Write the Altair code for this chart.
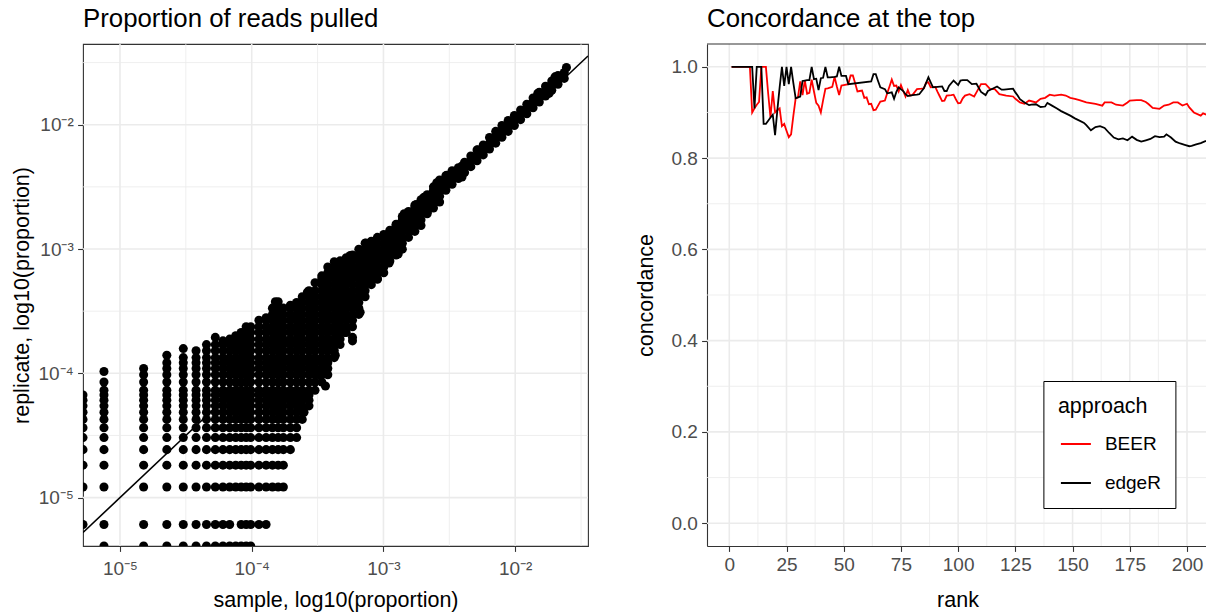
import altair as alt
import pandas as pd

FONT = "Liberation Sans"

# ---------------- Left panel: read counts ----------------
SAMPLE_UNIT = 7.56e-6      # proportion represented by one read in the sample
REPLICATE_UNIT = 6.08e-6   # proportion represented by one read in the replicate

SAMPLE_COUNTS = [0, 1, 2, 3, 4, 5, 6, 7, 8, 9, 10, 11, 12, 13, 15, 17, 19, 21, 23, 26, 29, 32, 36,
                 40, 45, 50, 56, 62, 69, 77, 86, 96, 107, 119, 133, 148, 165, 184, 205, 229, 255,
                 284, 317, 353, 394, 439, 490, 546, 609, 679, 757, 844, 941, 1049, 1170, 1304,
                 1454, 1621, 1808, 2016, 2248, 2507, 2796, 3118, 3240]

REPLICATE_COUNTS = [
    [1, 2, 3, 4, 5, 6, 7, 8, 9, 10, 11],
    [0, 1, 2, 3, 4, 5, 6, 7, 8, 9, 10, 11, 12, 14, 17],
    [0, 1, 2, 3, 4, 5, 6, 7, 8, 9, 10, 11, 12, 14, 16, 18],
    [0, 1, 2, 3, 4, 5, 6, 7, 8, 9, 10, 11, 12, 14, 16, 18, 20, 23],
    [0, 1, 2, 3, 4, 5, 6, 7, 8, 9, 10, 11, 12, 14, 16, 18, 20, 22, 26],
    [0, 1, 2, 3, 4, 5, 6, 7, 8, 9, 10, 11, 12, 14, 16, 18, 20, 22, 25],
    [0, 1, 2, 3, 4, 5, 6, 7, 8, 9, 10, 11, 12, 14, 16, 18, 20, 22, 25, 28],
    [0, 1, 2, 3, 4, 5, 6, 7, 8, 9, 10, 11, 12, 14, 16, 18, 20, 22, 25, 28, 32],
    [0, 1, 2, 3, 4, 5, 6, 7, 8, 9, 10, 11, 12, 14, 16, 18, 20, 22, 25, 28, 30],
    [0, 1, 2, 3, 4, 5, 6, 7, 8, 9, 10, 11, 12, 14, 16, 18, 20, 22, 25, 28, 31],
    [0, 2, 3, 4, 5, 6, 7, 8, 9, 10, 11, 12, 14, 16, 18, 20, 22, 25, 28, 31, 33],
    [0, 1, 2, 3, 4, 5, 6, 7, 8, 9, 10, 11, 12, 14, 16, 18, 20, 22, 25, 28, 31, 35],
    [0, 1, 2, 3, 4, 5, 6, 7, 8, 9, 10, 11, 12, 14, 16, 18, 20, 22, 25, 28, 31, 35, 39],
    [0, 1, 2, 3, 4, 5, 6, 7, 8, 9, 10, 11, 12, 14, 16, 18, 20, 22, 25, 28, 31, 35, 39],
    [1, 2, 3, 4, 5, 6, 7, 8, 9, 10, 11, 12, 14, 16, 18, 20, 22, 25, 28, 31, 35, 39, 44],
    [1, 2, 3, 4, 5, 6, 7, 8, 9, 10, 11, 12, 14, 16, 18, 20, 22, 25, 28, 31, 35, 39, 44, 46],
    [2, 3, 4, 5, 6, 7, 8, 9, 10, 11, 12, 14, 16, 18, 20, 22, 25, 28, 31, 35, 39, 44, 49, 55],
    [2, 3, 4, 5, 6, 7, 8, 9, 10, 11, 12, 14, 16, 18, 20, 22, 25, 28, 31, 35, 39, 44, 49, 55, 62],
    [2, 3, 4, 5, 6, 7, 8, 9, 10, 11, 12, 14, 16, 18, 20, 22, 25, 28, 31, 35, 39, 44, 49, 55],
    [4, 5, 6, 7, 8, 9, 10, 11, 12, 14, 16, 18, 20, 22, 25, 28, 31, 35, 39, 44, 49, 55, 58],
    [5, 6, 7, 8, 9, 10, 11, 12, 14, 16, 18, 20, 22, 25, 28, 31, 35, 39, 44, 49, 55, 61],
    [7, 8, 9, 10, 11, 12, 14, 16, 18, 20, 22, 25, 28, 31, 35, 39, 44, 49, 55, 61, 68],
    [9, 10, 11, 12, 14, 16, 18, 20, 22, 25, 28, 31, 35, 39, 44, 49, 55, 61, 68, 76],
    [12, 14, 16, 18, 20, 22, 25, 28, 31, 35, 39, 44, 49, 55, 61, 68, 76, 88],
    [14, 16, 18, 20, 22, 25, 28, 31, 35, 39, 44, 49, 55, 61, 68, 76, 85, 95, 100],
    [16, 18, 20, 22, 25, 28, 31, 35, 39, 44, 49, 55, 61, 68, 76, 85, 95, 106, 118],
    [22, 25, 28, 31, 35, 39, 44, 49, 55, 61, 68, 76, 85, 95, 106, 118, 130],
    [28, 31, 35, 39, 44, 49, 55, 61, 68, 76, 85, 95, 106, 118, 132],
    [35, 39, 44, 49, 55, 61, 68, 76, 85, 95, 106, 118, 132, 140],
    [32, 39, 44, 49, 55, 61, 68, 76, 85, 95, 106, 118, 132, 147],
    [49, 55, 61, 68, 76, 85, 95, 106, 118, 132, 147, 164],
    [68, 76, 85, 95, 106, 118, 132, 147, 164, 183],
    [85, 95, 106, 118, 132, 147, 164, 183, 190],
    [95, 106, 118, 132, 147, 164, 183, 204],
    [106, 118, 132, 147, 164, 183, 204, 215],
    [132, 147, 164, 183, 204, 228, 233],
    [147, 164, 183, 204, 228, 254, 260],
    [164, 183, 204, 228, 254, 283, 300],
    [204, 228, 254, 283, 316, 330],
    [228, 254, 283, 316, 352, 370],
    [254, 283, 316, 352, 393, 410],
    [316, 352, 393, 438, 450],
    [352, 393, 438, 489, 520],
    [393, 438, 489, 545, 590],
    [489, 545, 608, 640],
    [545, 608, 678, 700],
    [608, 678, 740],
    [678, 756, 820],
    [756, 843, 920],
    [843, 940, 1030],
    [940, 1048, 1130],
    [1048, 1169, 1300],
    [1169, 1304, 1454],
    [1304, 1454, 1620],
    [1454, 1621, 1780],
    [1621, 1808, 1950],
    [1808, 2016, 2160],
    [2016, 2248, 2400],
    [2248, 2507, 2700],
    [2507, 2796, 3000],
    [2796, 3118, 3350],
    [3118, 3477, 3700],
    [3477, 3877, 4100],
    [3877, 4324],
    [4740],
]

# isolated points on the ragged edges of the cloud: (sample reads, replicate reads)
EDGE_SAMPLE = [171, 146, 119, 285, 88, 77, 67, 57, 48, 43, 33, 74, 97, 190, 234, 268, 336,
               400, 522, 685, 522, 1963, 2653, 2393, 1539, 927, 20, 29, 35]
EDGE_REPLICATE = [150, 127, 94, 327, 51, 30, 35, 23, 13, 16, 8, 146, 184, 316, 375, 428, 561,
                  645, 765, 1032, 624, 2940, 3990, 2940, 2050, 1310, 62, 60, 74]

X_DOMAIN = [5.24e-6, 0.0357]
Y_DOMAIN = [4.08e-6, 0.0446]
LOG_TICKS = [1e-5, 1e-4, 1e-3, 1e-2]
LOG_MINOR = [3.162e-5, 3.162e-4, 3.162e-3, 3.162e-2]
LOG_TICK_LABELS = ["10\u207b\u2075", "10\u207b\u2074", "10\u207b\u00b3", "10\u207b\u00b2"]

# ---------------- Right panel: concordance at the top ----------------
BEER_RANK = [1, 9, 10, 11, 12, 13, 14, 16, 17, 18, 19, 20, 21, 22, 23, 24, 25, 26, 27, 28, 29, 30,
             31, 32, 33, 34, 35, 36, 37, 38, 39, 40, 41, 42, 43, 45, 46, 47, 48, 49, 50, 52, 53,
             54, 55, 56, 57, 58, 59, 60, 61, 62, 63, 64, 65, 66, 67, 68, 69, 70, 71, 72, 73, 74,
             75, 76, 77, 78, 79, 80, 82, 84, 85, 86, 87, 88, 90, 91, 92, 93, 94, 95, 97, 98, 99,
             100, 101, 102, 103, 105, 107, 108, 110, 112, 114, 116, 118, 121, 124, 125, 127, 129,
             131, 134, 136, 138, 140, 142, 145, 147, 149, 151, 153, 156, 160, 163, 164, 167, 169,
             172, 174, 175, 178, 180, 182, 183, 185, 188, 190, 192, 194, 196, 198, 200, 201, 203,
             206, 207, 209]
BEER_VALUE = [1.0, 1.0, 0.9, 0.909, 0.917, 0.923, 1.0, 1.0, 0.941, 0.889, 0.947, 0.9, 0.905, 0.909,
              0.87, 0.875, 0.86, 0.846, 0.852, 0.893, 0.931, 0.933, 0.968, 0.938, 0.97, 0.941,
              0.943, 0.972, 0.946, 0.921, 0.915, 0.9, 0.927, 0.952, 0.953, 0.956, 0.978, 0.957,
              0.938, 0.959, 0.96, 0.962, 0.981, 0.981, 0.964, 0.946, 0.947, 0.948, 0.932, 0.933,
              0.918, 0.919, 0.905, 0.906, 0.915, 0.924, 0.925, 0.926, 0.942, 0.957, 0.972, 0.958,
              0.959, 0.946, 0.96, 0.947, 0.935, 0.949, 0.937, 0.938, 0.951, 0.952, 0.953, 0.965,
              0.966, 0.955, 0.956, 0.945, 0.935, 0.925, 0.926, 0.937, 0.938, 0.939, 0.929, 0.92,
              0.921, 0.931, 0.937, 0.94, 0.935, 0.944, 0.962, 0.962, 0.951, 0.951, 0.94, 0.937,
              0.935, 0.93, 0.922, 0.919, 0.926, 0.922, 0.93, 0.932, 0.939, 0.937, 0.939, 0.937,
              0.932, 0.93, 0.927, 0.922, 0.919, 0.915, 0.922, 0.922, 0.917, 0.915, 0.922, 0.926,
              0.927, 0.927, 0.923, 0.919, 0.91, 0.908, 0.915, 0.917, 0.922, 0.922, 0.915, 0.919,
              0.911, 0.9, 0.893, 0.898, 0.894]

EDGER_RANK = [1, 10, 11, 12, 14, 15, 16, 17, 18, 19, 20, 21, 22, 23, 24, 25, 26, 27, 28, 29, 30,
              31, 32, 33, 34, 35, 36, 37, 38, 39, 40, 41, 42, 43, 44, 46, 47, 48, 49, 50, 51, 52,
              62, 63, 64, 65, 66, 68, 69, 70, 71, 72, 73, 74, 76, 77, 78, 80, 82, 83, 85, 86, 87,
              88, 89, 91, 93, 94, 95, 96, 98, 100, 101, 102, 104, 106, 108, 110, 112, 113, 115,
              117, 119, 120, 122, 124, 125, 126, 127, 129, 131, 132, 134, 136, 138, 139, 141, 143,
              145, 147, 149, 151, 153, 155, 156, 158, 160, 162, 164, 166, 168, 170, 172, 174, 176,
              178, 180, 182, 184, 186, 188, 190, 191, 193, 195, 197, 199, 201, 202, 204, 206, 208,
              209]
EDGER_VALUE = [1.0, 1.0, 0.909, 1.0, 1.0, 0.875, 0.875, 0.882, 0.889, 0.895, 0.85, 0.905, 0.955,
               1.0, 0.958, 1.0, 0.962, 1.0, 0.964, 0.931, 0.933, 0.935, 0.969, 0.97, 0.971, 0.971,
               1.0, 0.973, 0.974, 0.949, 0.975, 0.976, 1.0, 0.977, 0.977, 0.978, 0.979, 1.0, 0.98,
               0.98, 0.98, 0.962, 0.968, 0.984, 0.984, 0.969, 0.955, 0.951, 0.942, 0.943, 0.944,
               0.93, 0.945, 0.955, 0.947, 0.94, 0.936, 0.938, 0.939, 0.94, 0.953, 0.965, 0.977,
               0.966, 0.955, 0.956, 0.957, 0.947, 0.947, 0.958, 0.97, 0.96, 0.97, 0.971, 0.971,
               0.962, 0.963, 0.945, 0.938, 0.947, 0.952, 0.957, 0.95, 0.95, 0.951, 0.952, 0.944,
               0.937, 0.929, 0.922, 0.916, 0.917, 0.918, 0.912, 0.913, 0.921, 0.915, 0.909, 0.903,
               0.898, 0.893, 0.887, 0.882, 0.877, 0.872, 0.861, 0.868, 0.87, 0.866, 0.855, 0.845,
               0.841, 0.843, 0.839, 0.847, 0.84, 0.836, 0.839, 0.842, 0.848, 0.846, 0.847, 0.852,
               0.845, 0.836, 0.832, 0.829, 0.826, 0.827, 0.83, 0.833, 0.837, 0.837]

RANK_TICKS = [0, 25, 50, 75, 100, 125, 150, 175, 200]
RANK_MINOR = [12.5, 37.5, 62.5, 87.5, 112.5, 137.5, 162.5, 187.5]
CONC_TICKS = [0.0, 0.2, 0.4, 0.6, 0.8, 1.0]
CONC_MINOR = [0.1, 0.3, 0.5, 0.7, 0.9]
APPROACHES = ["BEER", "edgeR"]
APPROACH_COLORS = ["#FF0000", "#000000"]

GRID = "#EBEBEB"
FRAME = "#333333"
TICK_FONT = 19

# ---------------- build tables ----------------
pairs = []
for n, ms in zip(SAMPLE_COUNTS, REPLICATE_COUNTS):
    for m in ms:
        pairs.append((n, m))
pairs += list(zip(EDGE_SAMPLE, EDGE_REPLICATE))

rows = []
for n, m in pairs:
    # zero counts sit on the panel edge (log of zero), as in the original
    rows.append({
        "sample": n * SAMPLE_UNIT if n > 0 else X_DOMAIN[0],
        "replicate": m * REPLICATE_UNIT if m > 0 else Y_DOMAIN[0],
    })
scatter_df = pd.DataFrame(rows)

conc_df = pd.DataFrame({
    "rank": BEER_RANK + EDGER_RANK,
    "concordance": BEER_VALUE + EDGER_VALUE,
    "approach": [APPROACHES[0]] * len(BEER_RANK) + [APPROACHES[1]] * len(EDGER_RANK),
})

label_list = "[" + ",".join("'" + s + "'" for s in LOG_TICK_LABELS) + "]"
log_label_expr = label_list + "[round(log(datum.value)/LN10)+5]"

LW, LH = 505, 502
RW, RH = 499, 502

xs = alt.Scale(type="log", domain=X_DOMAIN, nice=False)
ys = alt.Scale(type="log", domain=Y_DOMAIN, nice=False)

left_x_axis = alt.Axis(values=LOG_TICKS, labelExpr=log_label_expr, title="sample, log10(proportion)",
                       titleX=LW / 2, titleY=60, titleBaseline="alphabetic", labelFlush=False,
                       labelPadding=8.5)
left_y_axis = alt.Axis(values=LOG_TICKS, labelExpr=log_label_expr, title="replicate, log10(proportion)",
                       titleX=-55, titleY=LH / 2, titleAngle=270, titleBaseline="alphabetic",
                       titleAlign="center", labelFlush=False)

rx = alt.Scale(domain=[-9.74, 208.3], nice=False, zero=False)
ry = alt.Scale(domain=[-0.05, 1.05], nice=False, zero=False)

right_x_axis = alt.Axis(values=RANK_TICKS, format="d", title="rank", titleX=250.5, titleY=60,
                        titleBaseline="alphabetic", labelFlush=False, domain=True,
                        domainColor=FRAME, domainWidth=1.1)
right_y_axis = alt.Axis(values=CONC_TICKS, format=".1f", title="concordance", titleX=-55,
                        titleY=RH / 2, titleAngle=270, titleBaseline="alphabetic",
                        titleAlign="center", labelFlush=False, domain=True,
                        domainColor=FRAME, domainWidth=1.1)


def vrules(values, scale, axis, width):
    return alt.Chart(pd.DataFrame({"g": values})).mark_rule(
        color=GRID, strokeWidth=width).encode(x=alt.X("g:Q", scale=scale, axis=axis))


def hrules(values, scale, axis, width):
    return alt.Chart(pd.DataFrame({"g": values})).mark_rule(
        color=GRID, strokeWidth=width).encode(y=alt.Y("g:Q", scale=scale, axis=axis))


points = alt.Chart(scatter_df).mark_circle(size=82, color="black", opacity=1, clip=True).encode(
    x=alt.X("sample:Q", scale=xs, axis=left_x_axis),
    y=alt.Y("replicate:Q", scale=ys, axis=left_y_axis),
)
diag = alt.Chart(pd.DataFrame({"sample": X_DOMAIN, "replicate": X_DOMAIN})).mark_line(
    color="black", strokeWidth=1.6, clip=True).encode(
    x=alt.X("sample:Q", scale=xs, axis=left_x_axis),
    y=alt.Y("replicate:Q", scale=ys, axis=left_y_axis))

TITLE_OFFSET = -9.3

left = alt.layer(
    vrules(LOG_MINOR, xs, left_x_axis, 0.8), hrules(LOG_MINOR, ys, left_y_axis, 0.8),
    vrules(LOG_TICKS, xs, left_x_axis, 1.6), hrules(LOG_TICKS, ys, left_y_axis, 1.6),
    points, diag,
).properties(
    width=LW, height=LH,
    title=alt.TitleParams("Proportion of reads pulled", anchor="start", frame="group",
                          fontSize=25.8, font=FONT, fontWeight="normal", color="black",
                          baseline="alphabetic", offset=TITLE_OFFSET),
    view=alt.ViewBackground(stroke=FRAME, strokeWidth=1.1),
)

lines = alt.Chart(conc_df).mark_line(strokeWidth=1.8, clip=True).encode(
    x=alt.X("rank:Q", scale=rx, axis=right_x_axis),
    y=alt.Y("concordance:Q", scale=ry, axis=right_y_axis),
    color=alt.Color("approach:N", scale=alt.Scale(domain=APPROACHES, range=APPROACH_COLORS),
                    legend=alt.Legend(orient="none", legendX=960.4, legendY=337,
                                      title="approach", titleFontSize=21.5, titleFont=FONT,
                                      titleFontWeight="normal", titleColor="black",
                                      labelFontSize=TICK_FONT, labelFont=FONT, labelColor="black",
                                      symbolType="stroke", symbolSize=900, symbolStrokeWidth=2,
                                      padding=14.5, strokeColor="black", fillColor="white",
                                      rowPadding=13, titlePadding=11, labelOffset=13,
                                      symbolOffset=2,
                                      labelExpr="datum.label + '\u00a0'")),
)
top_border = alt.Chart(pd.DataFrame({"t": [1]})).mark_rule(color=FRAME, strokeWidth=1.1).encode(
    y=alt.value(0))

right = alt.layer(
    vrules(RANK_MINOR, rx, right_x_axis, 0.8), hrules(CONC_MINOR, ry, right_y_axis, 0.8),
    vrules(RANK_TICKS, rx, right_x_axis, 1.6), hrules(CONC_TICKS, ry, right_y_axis, 1.6),
    lines, top_border,
).properties(
    width=RW, height=RH,
    title=alt.TitleParams("Concordance at the top", anchor="start", frame="group",
                          fontSize=25.8, font=FONT, fontWeight="normal", color="black",
                          baseline="alphabetic", offset=TITLE_OFFSET),
)

chart = alt.hconcat(left, right, spacing=119, bounds="flush").properties(
    autosize=alt.AutoSizeParams(type="none"),
    padding={"left": 83, "top": 44, "right": 1206 - 83, "bottom": 613 - 44},
).configure(font=FONT).configure_view(stroke="transparent").configure_axis(
    labelFont=FONT, labelFontSize=TICK_FONT, labelColor="#4D4D4D",
    tickColor=FRAME, tickSize=5.4, tickWidth=1.1, labelPadding=4.3,
    titleFont=FONT, titleFontSize=21.5, titleFontWeight="normal", titleColor="black",
    grid=False, domain=False,
)

chart.save("out.html", embed_options={"renderer": "svg", "actions": False})
